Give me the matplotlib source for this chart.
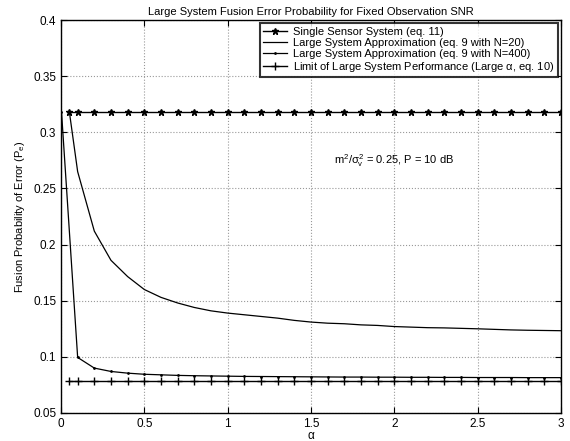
import numpy as np
import matplotlib
matplotlib.use('Agg')
import matplotlib.pyplot as plt

plt.rcParams['font.family'] = ['Liberation Sans', 'DejaVu Sans']
plt.rcParams['mathtext.fontset'] = 'custom'
plt.rcParams['mathtext.rm'] = 'Liberation Sans'
plt.rcParams['mathtext.it'] = 'Liberation Sans'

# alpha grid used for the markers / curves
alpha = [0.05, 0.1, 0.2, 0.3, 0.4, 0.5, 0.6, 0.7, 0.8, 0.9, 1.0,
         1.1, 1.2, 1.3, 1.4, 1.5, 1.6, 1.7, 1.8, 1.9, 2.0,
         2.1, 2.2, 2.3, 2.4, 2.5, 2.6, 2.7, 2.8, 2.9, 3.0]

# single sensor (eq. 11)
pe_single = 0.3185

# large system approx, N=20
pe_n20 = [0.3185, 0.265, 0.212, 0.186, 0.1715, 0.160, 0.153, 0.148, 0.144, 0.141, 0.139,
          0.1375, 0.136, 0.1345, 0.1325, 0.131, 0.130, 0.1295, 0.1285, 0.128, 0.127,
          0.1265, 0.126, 0.1258, 0.1254, 0.125, 0.1245, 0.124, 0.1237, 0.1235, 0.1233]

# large system approx, N=400 (starts near alpha=0)
alpha_n400 = [0.003] + alpha[1:]
pe_n400 = [0.3185, 0.0995, 0.090, 0.087, 0.0855, 0.0845, 0.084, 0.0835, 0.0832, 0.083, 0.0828,
           0.0826, 0.0825, 0.0824, 0.0823, 0.0822, 0.0821, 0.0820, 0.0820, 0.0819, 0.0819,
           0.0818, 0.0818, 0.0817, 0.0817, 0.0816, 0.0816, 0.0816, 0.0815, 0.0815, 0.0815]

# limit for large alpha (eq. 10)
pe_limit = 0.0785

fig = plt.figure(figsize=(5.7, 4.41), dpi=100)
ax = fig.add_axes([0.107, 0.0635, 0.877, 0.891])

ax.plot(alpha, [pe_single] * len(alpha), 'k-*', lw=1, ms=4.5,
        label='Single Sensor System (eq. 11)')
ax.plot(alpha, pe_n20, 'k-', lw=0.9,
        label='Large System Approximation (eq. 9 with N=20)')
ax.plot(alpha_n400, pe_n400, 'k-', marker='.', ms=2, lw=0.9,
        label='Large System Approximation (eq. 9 with N=400)')
ax.plot(alpha, [pe_limit] * len(alpha), 'k-+', lw=1, ms=6,
        label=r'Limit of Large System Performance (Large $\alpha$, eq. 10)')

ax.set_xlim(0, 3)
ax.set_ylim(0.05, 0.4)
ax.set_xticks([0, 0.5, 1, 1.5, 2, 2.5, 3])
ax.set_xticklabels(['0', '0.5', '1', '1.5', '2', '2.5', '3'])
ax.set_yticks([0.05, 0.1, 0.15, 0.2, 0.25, 0.3, 0.35, 0.4])
ax.set_yticklabels(['0.05', '0.1', '0.15', '0.2', '0.25', '0.3', '0.35', '0.4'])
ax.tick_params(direction='in', top=True, right=True, labelsize=8.5, length=4, width=0.8)
ax.grid(True, linestyle=':', color='0.6', lw=0.8)
for s in ax.spines.values():
    s.set_linewidth(1.0)

ax.set_title('Large System Fusion Error Probability for Fixed Observation SNR', fontsize=8, pad=4)
ax.set_xlabel(r'$\alpha$', fontsize=8.5, labelpad=0)
ax.set_ylabel(r'Fusion Probability of Error (P$_\mathrm{e}$)', fontsize=8, labelpad=4)

ax.text(1.64, 0.275, r'm$^2$/$\sigma_\mathrm{v}^2$ = 0.25, P = 10 dB', fontsize=8, va='center')

leg = ax.legend(loc='upper right', fontsize=8, frameon=True, fancybox=False,
                borderaxespad=0.3, handlelength=2.2, labelspacing=0.1,
                borderpad=0.3, handletextpad=0.5)
leg.get_frame().set_edgecolor('k')
leg.get_frame().set_linewidth(1.5)

fig.savefig('out.png', dpi=100)
